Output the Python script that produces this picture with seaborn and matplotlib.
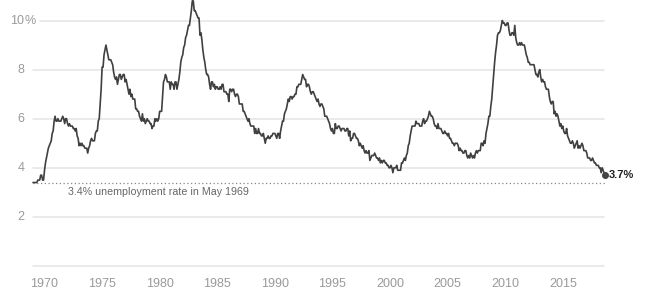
import numpy as np
import pandas as pd
import matplotlib
matplotlib.use("Agg")
import matplotlib.pyplot as plt
import seaborn as sns

# Monthly US unemployment rate (%), Jan 1969 - Sep 2018
start_year = 1969
rate_1969_1979 = [
    3.4, 3.4, 3.4, 3.4, 3.4, 3.5, 3.5, 3.5, 3.7, 3.7, 3.5, 3.5,
    3.9, 4.2, 4.4, 4.6, 4.8, 4.9, 5.0, 5.1, 5.4, 5.5, 5.9, 6.1,
    5.9, 5.9, 6.0, 5.9, 5.9, 5.9, 6.0, 6.1, 6.0, 5.8, 6.0, 6.0,
    5.8, 5.7, 5.8, 5.7, 5.7, 5.7, 5.6, 5.6, 5.5, 5.6, 5.3, 5.2,
    4.9, 5.0, 4.9, 5.0, 4.9, 4.9, 4.8, 4.8, 4.8, 4.6, 4.8, 4.9,
    5.1, 5.2, 5.1, 5.1, 5.1, 5.4, 5.5, 5.5, 5.9, 6.0, 6.6, 7.2,
    8.1, 8.1, 8.6, 8.8, 9.0, 8.8, 8.6, 8.4, 8.4, 8.4, 8.3, 8.2,
    7.9, 7.7, 7.6, 7.7, 7.4, 7.6, 7.8, 7.8, 7.6, 7.7, 7.8, 7.8,
    7.5, 7.6, 7.4, 7.2, 7.0, 7.2, 6.9, 7.0, 6.8, 6.8, 6.8, 6.4,
    6.4, 6.3, 6.3, 6.1, 6.0, 5.9, 6.2, 5.9, 6.0, 5.8, 5.9, 6.0,
    5.9, 5.9, 5.8, 5.8, 5.6, 5.7, 5.7, 6.0, 5.9, 6.0, 5.9, 6.0,
]
rate_1980s = [
    6.3, 6.3, 6.3, 6.9, 7.5, 7.6, 7.8, 7.7, 7.5, 7.5, 7.5, 7.2,
    7.5, 7.4, 7.4, 7.2, 7.5, 7.5, 7.2, 7.4, 7.6, 7.9, 8.3, 8.5,
    8.6, 8.9, 9.0, 9.3, 9.4, 9.6, 9.8, 9.8, 10.1, 10.4, 10.8, 10.8,
    10.4, 10.4, 10.3, 10.2, 10.1, 10.1, 9.4, 9.5, 9.2, 8.8, 8.5, 8.3,
    8.0, 7.8, 7.8, 7.7, 7.4, 7.2, 7.5, 7.5, 7.3, 7.4, 7.2, 7.3,
    7.3, 7.2, 7.2, 7.3, 7.2, 7.4, 7.4, 7.1, 7.1, 7.1, 7.0, 7.0,
    6.7, 7.2, 7.2, 7.1, 7.2, 7.2, 7.0, 6.9, 7.0, 7.0, 6.9, 6.6,
    6.6, 6.6, 6.6, 6.3, 6.3, 6.2, 6.1, 6.0, 5.9, 6.0, 5.8, 5.7,
    5.7, 5.7, 5.7, 5.4, 5.6, 5.4, 5.4, 5.6, 5.4, 5.4, 5.3, 5.3,
    5.4, 5.2, 5.0, 5.2, 5.2, 5.3, 5.2, 5.2, 5.3, 5.3, 5.4, 5.4,
]
rate_1990s = [
    5.4, 5.3, 5.2, 5.4, 5.4, 5.2, 5.5, 5.7, 5.9, 5.9, 6.2, 6.3,
    6.4, 6.6, 6.8, 6.7, 6.9, 6.9, 6.8, 6.9, 6.9, 7.0, 7.0, 7.3,
    7.3, 7.4, 7.4, 7.4, 7.6, 7.8, 7.7, 7.6, 7.6, 7.3, 7.4, 7.4,
    7.3, 7.1, 7.0, 7.1, 7.1, 7.0, 6.9, 6.8, 6.7, 6.8, 6.6, 6.5,
    6.6, 6.6, 6.5, 6.4, 6.1, 6.1, 6.1, 6.0, 5.9, 5.8, 5.6, 5.5,
    5.6, 5.4, 5.4, 5.8, 5.6, 5.6, 5.7, 5.7, 5.6, 5.5, 5.6, 5.6,
    5.6, 5.5, 5.5, 5.6, 5.6, 5.3, 5.5, 5.1, 5.2, 5.2, 5.4, 5.4,
    5.3, 5.2, 5.2, 5.1, 4.9, 5.0, 4.9, 4.8, 4.9, 4.7, 4.6, 4.7,
    4.6, 4.6, 4.7, 4.3, 4.4, 4.5, 4.5, 4.5, 4.6, 4.5, 4.4, 4.4,
    4.3, 4.4, 4.2, 4.3, 4.2, 4.3, 4.3, 4.2, 4.2, 4.1, 4.1, 4.0,
]
rate_2000s = [
    4.0, 4.1, 4.0, 3.8, 4.0, 4.0, 4.0, 4.1, 3.9, 3.9, 3.9, 3.9,
    4.2, 4.2, 4.3, 4.4, 4.3, 4.5, 4.6, 4.9, 5.0, 5.3, 5.5, 5.7,
    5.7, 5.7, 5.7, 5.9, 5.8, 5.8, 5.8, 5.7, 5.7, 5.7, 5.9, 6.0,
    5.8, 5.9, 5.9, 6.0, 6.1, 6.3, 6.2, 6.1, 6.1, 6.0, 5.8, 5.7,
    5.7, 5.6, 5.8, 5.6, 5.6, 5.6, 5.5, 5.4, 5.4, 5.5, 5.4, 5.4,
    5.3, 5.4, 5.2, 5.2, 5.1, 5.0, 5.0, 4.9, 5.0, 5.0, 5.0, 4.9,
    4.7, 4.8, 4.7, 4.7, 4.6, 4.6, 4.7, 4.7, 4.5, 4.4, 4.5, 4.4,
    4.6, 4.5, 4.4, 4.5, 4.4, 4.6, 4.7, 4.6, 4.7, 4.7, 4.7, 5.0,
    5.0, 4.9, 5.1, 5.0, 5.4, 5.6, 5.8, 6.1, 6.1, 6.5, 6.8, 7.3,
    7.8, 8.3, 8.7, 9.0, 9.4, 9.5, 9.5, 9.6, 9.8, 10.0, 9.9, 9.9,
]
rate_2010s = [
    9.8, 9.8, 9.9, 9.9, 9.6, 9.4, 9.4, 9.5, 9.5, 9.4, 9.8, 9.3,
    9.1, 9.0, 9.0, 9.1, 9.0, 9.1, 9.0, 9.0, 9.0, 8.8, 8.6, 8.5,
    8.3, 8.3, 8.2, 8.2, 8.2, 8.2, 8.2, 8.0, 7.8, 7.8, 7.7, 7.9,
    8.0, 7.7, 7.5, 7.6, 7.5, 7.5, 7.3, 7.2, 7.2, 7.2, 6.9, 6.7,
    6.6, 6.7, 6.7, 6.2, 6.3, 6.1, 6.2, 6.1, 5.9, 5.7, 5.8, 5.6,
    5.7, 5.5, 5.4, 5.4, 5.6, 5.3, 5.2, 5.1, 5.0, 5.0, 5.1, 5.0,
    4.8, 4.9, 5.0, 5.1, 4.8, 4.9, 4.8, 4.9, 5.0, 4.9, 4.7, 4.7,
    4.7, 4.6, 4.4, 4.4, 4.4, 4.3, 4.3, 4.4, 4.3, 4.2, 4.2, 4.1,
    4.1, 4.1, 4.0, 4.0, 3.8, 4.0, 3.9, 3.8, 3.7,
]
y_ticks = [0, 2, 4, 6, 8, 10]
x_ticks = [1970, 1975, 1980, 1985, 1990, 1995, 2000, 2005, 2010, 2015]
reference_rate = 3.4
reference_label = "3.4% unemployment rate in May 1969"

rates = rate_1969_1979 + rate_1980s + rate_1990s + rate_2000s + rate_2010s
t = start_year + np.arange(len(rates)) / 12.0
df = pd.DataFrame({"t": t, "rate": rates})

sns.set_theme(style="white")
plt.rcParams["font.family"] = ["Liberation Sans", "DejaVu Sans"]

fig = plt.figure(figsize=(6.5, 2.93), dpi=100)
W, H = 650, 293
x0_px, x1_px = 33, 605
y0_px = 266
px_per_unit = 24.55
ymax = 10.85
ax = fig.add_axes([x0_px / W, (H - y0_px) / H, (x1_px - x0_px) / W,
                   ymax * px_per_unit / H])
ax.set_xlim(t[0], t[-1])
ax.set_ylim(0, ymax)

grid_c = "#e4e4e4"
for v in y_ticks:
    xs = 0.012 if v == 10 else 0.0
    ax.plot([xs, 0.998], [v, v], color=grid_c, lw=1.1,
            transform=ax.get_yaxis_transform(), zorder=1, clip_on=False)

ax.plot([0, 1], [reference_rate, reference_rate], color="#888888", lw=0.9,
        ls=(0, (1, 2)), transform=ax.get_yaxis_transform(), zorder=1)
ax.text(1972.0, reference_rate - 0.2, reference_label, fontsize=7.7,
        color="#666666", va="top", ha="left")

sns.lineplot(data=df, x="t", y="rate", ax=ax, color="#404040", lw=1.2,
             zorder=3, clip_on=False)
ax.plot(t[-1], rates[-1], "o", color="#444444", ms=4, zorder=4, clip_on=False)
ax.text(t[-1] + 0.35, rates[-1], f"{rates[-1]:.1f}%", fontsize=8,
        fontweight="bold", color="#222222", va="center", ha="left")

for s in ax.spines.values():
    s.set_visible(False)
ax.set_xticks([])
ax.set_yticks([])
ax.set_xlabel("")
ax.set_ylabel("")

tick_c = "#9a9a9a"
for v in y_ticks[1:]:
    ax.text(-0.015, v, str(v), transform=ax.get_yaxis_transform(),
            ha="right", va="center", fontsize=9, color=tick_c)
ax.text(-0.015, 10, "%", transform=ax.get_yaxis_transform(),
        ha="left", va="center", fontsize=9, color=tick_c)
for yr in x_ticks:
    ax.text(yr, -0.5, str(yr), ha="center", va="top", fontsize=9, color=tick_c)

fig.savefig("out.png", dpi=100, facecolor="white")
